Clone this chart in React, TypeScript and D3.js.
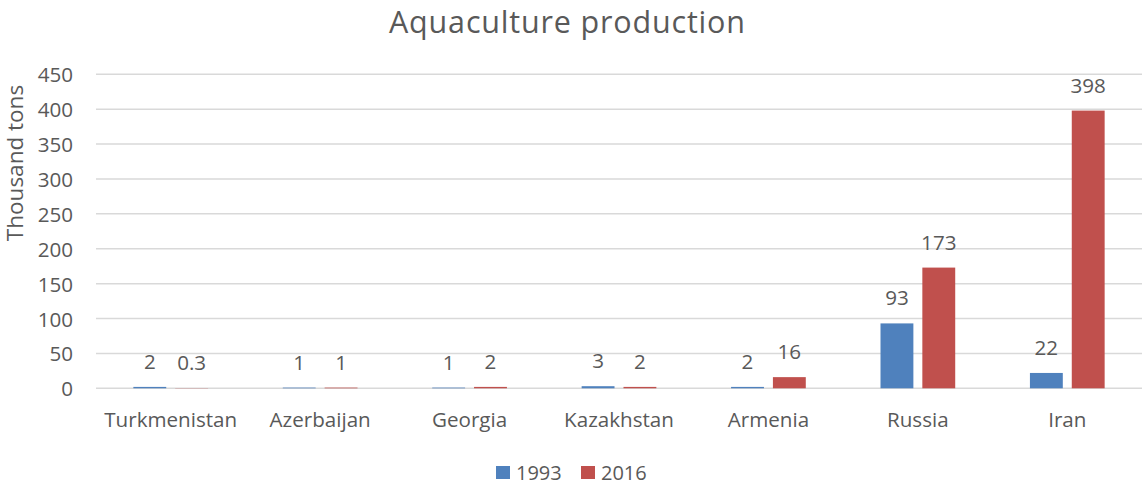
import React from "react";
import * as d3 from "d3";

const categories = ["Turkmenistan", "Azerbaijan", "Georgia", "Kazakhstan", "Armenia", "Russia", "Iran"];
const seriesNames = ["1993", "2016"];
const values1993 = [2, 1, 1, 3, 2, 93, 22];
const values2016 = [0.3, 1, 2, 2, 16, 173, 398];
const labels1993 = ["2", "1", "1", "3", "2", "93", "22"];
const labels2016 = ["0.3", "1", "2", "2", "16", "173", "398"];
const yTicks = [0, 50, 100, 150, 200, 250, 300, 350, 400, 450];
const colors = ["#4F81BD", "#C0504D"];

const W = 1142;
const H = 484;
const FONT = "'Open Sans', 'Noto Sans', sans-serif";
const TEXT = "#595959";
const FS = 20.6;

export default function App() {
  const left = 96;
  const right = 1142;
  const top = 74.3;
  const bottom = 388.3;

  const x0 = d3.scaleBand<string>().domain(categories).range([left, right]).padding(0);
  const bw = x0.bandwidth();
  const x1 = d3
    .scaleBand<string>()
    .domain(seriesNames)
    .range([bw * 0.25, bw * 0.75])
    .paddingInner(0.2143)
    .paddingOuter(0);
  const y = d3.scaleLinear().domain([0, 450]).range([bottom, top]);

  const series = [
    { name: "1993", values: values1993, labels: labels1993, color: colors[0] },
    { name: "2016", values: values2016, labels: labels2016, color: colors[1] },
  ];

  return (
    <svg
      width={W}
      height={H}
      style={{ position: "absolute", left: 0, top: 0, background: "#fff" }}
      fontFamily={FONT}
    >
      <text
        x={567}
        y={33}
        textAnchor="middle"
        fontSize={30.5}
        fill={TEXT}
        textLength={356}
        lengthAdjust="spacing"
      >
        Aquaculture production
      </text>

      {yTicks.map((t) => (
        <g key={t}>
          <line x1={left} x2={right} y1={y(t)} y2={y(t)} stroke="#D9D9D9" strokeWidth={1.5} />
          <text x={73} y={y(t)} textAnchor="end" dominantBaseline="central" fontSize={FS} fill={TEXT}>
            {t}
          </text>
        </g>
      ))}

      <text
        transform={`translate(14,163) rotate(-90)`}
        textAnchor="middle"
        dominantBaseline="central"
        fontSize={22.5}
        fill={TEXT}
      >
        Thousand tons
      </text>

      {series.map((s) =>
        categories.map((c, i) => {
          const bx = (x0(c) as number) + (x1(s.name) as number);
          const by = y(s.values[i]);
          return (
            <g key={s.name + c}>
              <rect x={bx} y={by} width={x1.bandwidth()} height={bottom - by} fill={s.color} />
              <text
                x={bx + x1.bandwidth() / 2}
                y={by - 18}
                textAnchor="middle"
                fontSize={FS}
                fill={TEXT}
              >
                {s.labels[i]}
              </text>
            </g>
          );
        })
      )}

      {categories.map((c) => (
        <text
          key={c}
          x={(x0(c) as number) + bw / 2}
          y={419}
          textAnchor="middle"
          dominantBaseline="central"
          fontSize={FS}
          fill={TEXT}
        >
          {c}
        </text>
      ))}

      {series.map((s, i) => {
        const lx = 496 + i * 85;
        return (
          <g key={s.name}>
            <rect x={lx} y={466} width={14} height={13} fill={s.color} />
            <text x={lx + 20} y={479.5} fontSize={20} fill={TEXT}>
              {s.name}
            </text>
          </g>
        );
      })}
    </svg>
  );
}
